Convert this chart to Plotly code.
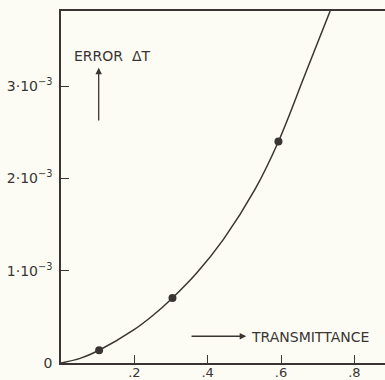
import plotly.graph_objects as go

# Curve (transmittance, error ΔT in units of 1e-3)
curve_t = [0.0, 0.052, 0.104, 0.197, 0.252, 0.304, 0.370, 0.443, 0.529, 0.593, 0.665, 0.734]
curve_err = [0.0, 0.05, 0.138, 0.355, 0.52, 0.705, 0.975, 1.34, 1.88, 2.40, 3.12, 3.814]

# Measured points
pts_t = [0.104, 0.304, 0.593]
pts_err = [0.138, 0.705, 2.40]

x_ticks = [0.2, 0.4, 0.6, 0.8]
x_ticktext = [".2", ".4", ".6", ".8"]
y_ticks = [0, 1e-3, 2e-3, 3e-3]
y_ticktext = ["0", "1·10<sup>−3</sup>", "2·10<sup>−3</sup>", "3·10<sup>−3</sup>"]

ink = "#3a3533"
bg = "#fcfcf5"
font = "DejaVu Sans"

fig = go.Figure()
fig.add_trace(go.Scatter(
    x=curve_t, y=[v * 1e-3 for v in curve_err], mode="lines",
    line=dict(color=ink, width=1.5, shape="spline", smoothing=1.0),
    hoverinfo="skip", showlegend=False, cliponaxis=True))
fig.add_trace(go.Scatter(
    x=pts_t, y=[v * 1e-3 for v in pts_err], mode="markers",
    marker=dict(color=ink, size=8), showlegend=False))

fig.update_layout(
    width=385, height=380,
    margin=dict(l=61, r=0, t=11, b=17, autoexpand=False),
    paper_bgcolor=bg, plot_bgcolor=bg,
    font=dict(family=font, color=ink, size=13),
    xaxis=dict(range=[0, 0.8836], tickvals=x_ticks, ticktext=x_ticktext,
               ticks="inside", ticklen=8, tickwidth=1.2, tickcolor=ink,
               showline=True, linecolor=ink, linewidth=1.5, mirror=True,
               showgrid=False, zeroline=False, fixedrange=True,
               tickfont=dict(size=13), ticklabelstandoff=-3),
    yaxis=dict(range=[0, 3.814e-3], tickvals=y_ticks, ticktext=y_ticktext,
               ticks="inside", ticklen=8, tickwidth=1.2, tickcolor=ink,
               showline=True, linecolor=ink, linewidth=1.5,
               showgrid=False, zeroline=False, fixedrange=True,
               tickfont=dict(size=14), ticklabelstandoff=4),
    annotations=[
        dict(x=0.03, y=3.33e-3, xref="x", yref="y", text="ERROR  ΔT",
             showarrow=False, xanchor="left", yanchor="middle",
             font=dict(size=14, family=font, color=ink)),
        dict(x=0.1028, y=3.2e-3, ax=0.1028, ay=2.61e-3, xref="x", yref="y",
             axref="x", ayref="y", text="", showarrow=True, arrowhead=2,
             arrowsize=1, arrowwidth=1.3, arrowcolor=ink),
        dict(x=0.513, y=0.28e-3, xref="x", yref="y", text="TRANSMITTANCE",
             showarrow=False, xanchor="left", yanchor="middle",
             font=dict(size=14, family=font, color=ink)),
        dict(x=0.505, y=0.29e-3, ax=0.352, ay=0.29e-3, xref="x", yref="y",
             axref="x", ayref="y", text="", showarrow=True, arrowhead=2,
             arrowsize=1, arrowwidth=1.3, arrowcolor=ink),
    ],
)

fig.write_html("out.html", config={"displayModeBar": False},
               post_script="document.body.style.margin='0';")
